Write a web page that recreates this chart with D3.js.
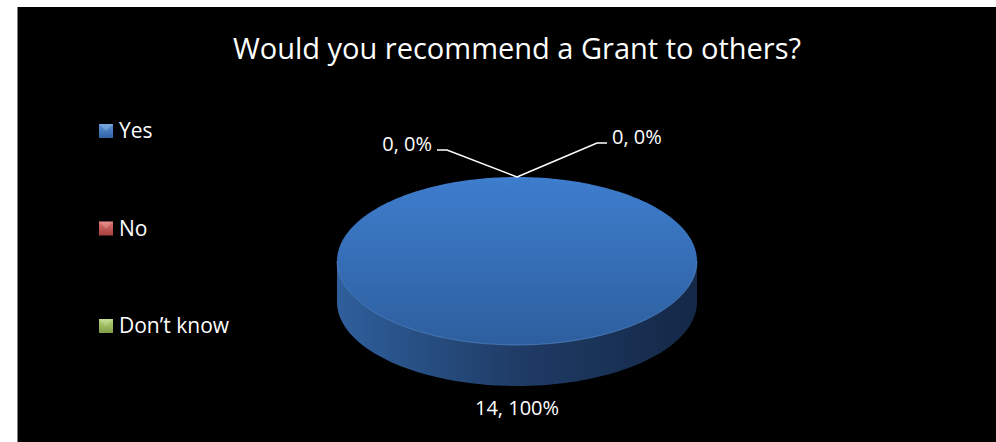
<!DOCTYPE html>
<html>
<head>
<meta charset="utf-8">
<script src="https://cdn.jsdelivr.net/npm/d3@7"></script>
<style>
  html, body { margin: 0; padding: 0; background: #ffffff; }
  svg { display: block; }
  text { font-family: "Open Sans", "DejaVu Sans", sans-serif; fill: #ffffff; }
</style>
</head>
<body>
<svg id="chart" width="996" height="442"></svg>
<script>
// Survey answers
const categories = ["Yes", "No", "Don\u2019t know"];
const counts = [14, 0, 0];
const title = "Would you recommend a Grant to others?";

const topColors = [["#3e7dcd", "#2d5f9f"], ["#d0605c", "#9c3b38"], ["#a9c96a", "#7a9640"]];
const sideColors = [["#2f5f9c", "#1f3c66", "#142847"], ["#a8423f", "#7a2c2a", "#521c1b"], ["#84a24b", "#5d7433", "#3e4e22"]];
const legColors = [["#5a93d8", "#2f62a6"], ["#e07470", "#a33f3c"], ["#b8d67a", "#7f9c44"]];

const W = 996, H = 442;
const svg = d3.select("#chart");

// Black chart area
svg.append("rect").attr("x", 17).attr("y", 7).attr("width", W - 17).attr("height", H - 7)
  .attr("fill", "#000000");
svg.append("line").attr("x1", 17.5).attr("x2", 17.5).attr("y1", 7).attr("y2", H)
  .attr("stroke", "#7f7f7f").attr("stroke-width", 1);

svg.append("text").attr("x", 517).attr("y", 59).attr("text-anchor", "middle")
  .style("font-size", "29px").text(title);

const defs = svg.append("defs");

// Gradients for the pie faces and legend keys
categories.forEach((c, i) => {
  const top = defs.append("linearGradient").attr("id", "top" + i)
    .attr("x1", 0).attr("y1", 0).attr("x2", 0).attr("y2", 1);
  top.append("stop").attr("offset", "0%").attr("stop-color", topColors[i][0]);
  top.append("stop").attr("offset", "100%").attr("stop-color", topColors[i][1]);

  const side = defs.append("linearGradient").attr("id", "side" + i)
    .attr("x1", 0).attr("y1", 0).attr("x2", 1).attr("y2", 0);
  side.append("stop").attr("offset", "0%").attr("stop-color", sideColors[i][0]);
  side.append("stop").attr("offset", "50%").attr("stop-color", sideColors[i][1]);
  side.append("stop").attr("offset", "100%").attr("stop-color", sideColors[i][2]);

  const leg = defs.append("linearGradient").attr("id", "leg" + i)
    .attr("x1", 0).attr("y1", 0).attr("x2", 0).attr("y2", 1);
  leg.append("stop").attr("offset", "0%").attr("stop-color", legColors[i][0]);
  leg.append("stop").attr("offset", "100%").attr("stop-color", legColors[i][1]);
});

// 3D pie geometry
const cx = 517, cy = 261, rx = 180, ry = 84, depth = 41;
const pie = d3.pie().sort(null).value(d => d)(counts);
const total = d3.sum(counts);

const px = a => cx + rx * Math.sin(a);
const py = (a, dz = 0) => cy - ry * Math.cos(a) + dz;

function topPath(s, e) {
  const n = Math.max(2, Math.ceil((e - s) / 0.02));
  const pts = d3.range(n + 1).map(k => s + (e - s) * k / n);
  const full = e - s >= 2 * Math.PI - 1e-6;
  let p = full ? "" : `M${cx},${cy}L`;
  p += (full ? "M" : "") + pts.map(a => `${px(a)},${py(a)}`).join("L");
  return p + "Z";
}

function sidePath(s, e) {
  // visible outer wall lies on the front half (angles between pi/2 and 3pi/2)
  const a0 = Math.max(s, Math.PI / 2), a1 = Math.min(e, 3 * Math.PI / 2);
  if (a1 <= a0) return null;
  const n = Math.max(2, Math.ceil((a1 - a0) / 0.02));
  const pts = d3.range(n + 1).map(k => a0 + (a1 - a0) * k / n);
  const upper = pts.map(a => `${px(a)},${py(a)}`);
  const lower = pts.slice().reverse().map(a => `${px(a)},${py(a, depth)}`);
  return "M" + upper.join("L") + "L" + lower.join("L") + "Z";
}

const pieG = svg.append("g");
pie.forEach((d, i) => {
  if (d.endAngle - d.startAngle <= 0) return;
  const sp = sidePath(d.startAngle, d.endAngle);
  if (sp) pieG.append("path").attr("d", sp).attr("fill", `url(#side${i})`);
});
pie.forEach((d, i) => {
  if (d.endAngle - d.startAngle <= 0) return;
  pieG.append("path").attr("d", topPath(d.startAngle, d.endAngle)).attr("fill", `url(#top${i})`);
  // light rim along the front edge
  const a0 = Math.max(d.startAngle, Math.PI / 2), a1 = Math.min(d.endAngle, 3 * Math.PI / 2);
  if (a1 > a0) {
    const pts = d3.range(61).map(k => a0 + (a1 - a0) * k / 60);
    pieG.append("path").attr("d", "M" + pts.map(a => `${px(a)},${py(a)}`).join("L"))
      .attr("fill", "none").attr("stroke", "#5d93d6")
      .attr("stroke-width", 1).attr("opacity", 0.6);
  }
});

// Data labels
const pct = v => Math.round(v / total * 100) + "%";
const zeroLeaders = { 1: { side: -1, dx: -70, dy: -27 }, 2: { side: 1, dx: 80, dy: -34 } };
pie.forEach((d, i) => {
  const mid = (d.startAngle + d.endAngle) / 2;
  const label = `${d.data}, ${pct(d.data)}`;
  if (d.data > 0) {
    svg.append("text").attr("x", px(mid)).attr("y", py(mid, depth) + 29)
      .attr("text-anchor", "middle").style("font-size", "20px").text(label);
  } else {
    const ax = px(mid), ay = py(mid);
    const L = zeroLeaders[i];
    const ex = ax + L.dx, ey = ay + L.dy;
    const endX = ex + L.side * 10;
    svg.append("path")
      .attr("d", `M${ax},${ay}L${ex},${ey}L${endX},${ey}`)
      .attr("fill", "none").attr("stroke", "#ffffff").attr("stroke-width", 1.5);
    svg.append("text").attr("x", endX + L.side * 5).attr("y", ey + 1)
      .attr("text-anchor", L.side < 0 ? "end" : "start")
      .style("font-size", "20px").text(label);
  }
});

// Legend
const legY = d3.scalePoint().domain(categories).range([131, 326]);
const legend = svg.append("g");
categories.forEach((c, i) => {
  const y = legY(c);
  legend.append("rect").attr("x", 99).attr("y", y - 7).attr("width", 14).attr("height", 14)
    .attr("fill", `url(#leg${i})`);
  legend.append("path")
    .attr("d", `M99,${y - 7}L113,${y - 7}L106,${y}Z`)
    .attr("fill", "#ffffff").attr("opacity", 0.18);
  legend.append("text").attr("x", 119).attr("y", y).attr("dy", "0.35em")
    .style("font-size", "21px").text(c);
});
</script>
</body>
</html>
